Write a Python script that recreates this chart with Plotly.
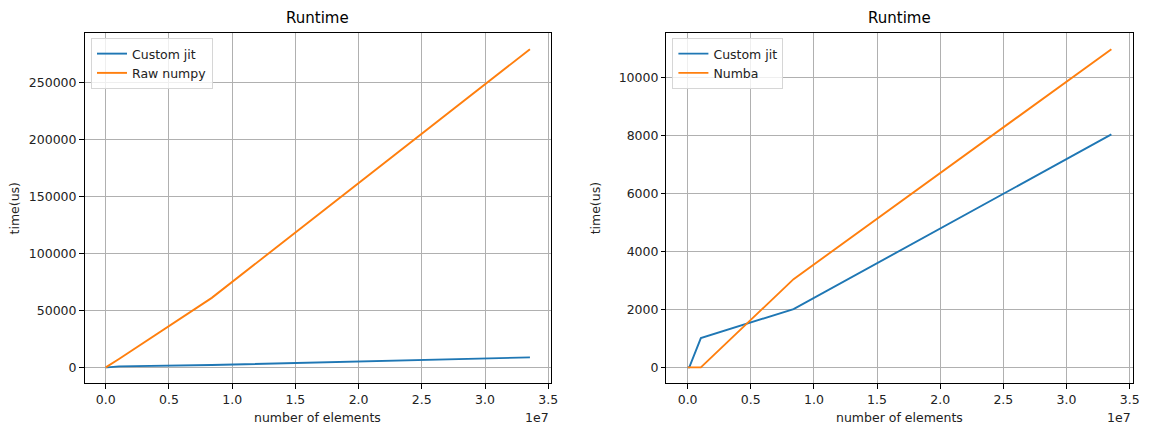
import plotly.graph_objects as go

# Data
n_elements = [1024, 131072, 1048576, 8388608, 33554432]
custom_jit_left = [0, 0, 900, 2100, 8800]
raw_numpy = [0, 900, 7300, 61000, 279200]
custom_jit_right = [0, 0, 1012, 2011, 8040]
numba = [0, 0, 0, 3044, 10980]

x_ticks = [0, 5e6, 1e7, 1.5e7, 2e7, 2.5e7, 3e7, 3.5e7]
x_ticktext = ["0.0", "0.5", "1.0", "1.5", "2.0", "2.5", "3.0", "3.5"]
y_ticks_left = [0, 50000, 100000, 150000, 200000, 250000]
y_ticks_right = [0, 2000, 4000, 6000, 8000, 10000]

BLUE = "#1f77b4"
ORANGE = "#ff7f0e"
FONT = "DejaVu Sans"
TXT = "#222222"
OFF = 8  # page body margin
W, H = 1151 - OFF, 427 - OFF

# plot-area pixel boxes in the page
L1, R1 = 85, 554.5
L2, R2 = 670.5, 1139.5
TOP, BOT = 33.3, 383.3

fig = go.Figure()

fig.add_trace(go.Scatter(x=n_elements, y=custom_jit_left, mode="lines", name="Custom jit",
                         line=dict(color=BLUE, width=1.9), xaxis="x", yaxis="y", legend="legend"))
fig.add_trace(go.Scatter(x=n_elements, y=raw_numpy, mode="lines", name="Raw numpy",
                         line=dict(color=ORANGE, width=1.9), xaxis="x", yaxis="y", legend="legend"))
fig.add_trace(go.Scatter(x=n_elements, y=custom_jit_right, mode="lines", name="Custom jit",
                         line=dict(color=BLUE, width=1.9), xaxis="x2", yaxis="y2", legend="legend2"))
fig.add_trace(go.Scatter(x=n_elements, y=numba, mode="lines", name="Numba",
                         line=dict(color=ORANGE, width=1.9), xaxis="x2", yaxis="y2", legend="legend2"))

def px_x(p):
    return (p - OFF) / W

def px_y(p):
    return 1 - (p - OFF) / H

xmin = min(n_elements); xmax = max(n_elements)
xr = [xmin - 0.05 * (xmax - xmin), xmax + 0.05 * (xmax - xmin)]

def yrange(vals):
    lo, hi = min(vals), max(vals)
    return [lo - 0.05 * (hi - lo), hi + 0.05 * (hi - lo)]

axis_common = dict(showline=True, linecolor="black", linewidth=1, mirror=True,
                   ticks="outside", ticklen=4.5, tickcolor="black", tickwidth=1,
                   showgrid=True, gridcolor="#b0b0b0", gridwidth=1, zeroline=False,
                   tickfont=dict(family=FONT, size=12.5, color=TXT))

legend_common = dict(xanchor="left", yanchor="top",
                     bgcolor="rgba(255,255,255,0.8)", bordercolor="#d6d6d6", borderwidth=1,
                     font=dict(family=FONT, size=12.5, color=TXT), tracegroupgap=0,
                     itemwidth=30)

fig.update_layout(
    width=W, height=H,
    margin=dict(l=0, r=0, t=0, b=0),
    paper_bgcolor="white", plot_bgcolor="white",
    font=dict(family=FONT, size=12.5, color=TXT),
    xaxis=dict(domain=[px_x(L1), px_x(R1)], anchor="y", range=xr,
               tickvals=x_ticks, ticktext=x_ticktext, **axis_common),
    yaxis=dict(domain=[px_y(BOT), px_y(TOP)], anchor="x", range=yrange(custom_jit_left + raw_numpy),
               tickvals=y_ticks_left, tickformat="d", **axis_common),
    xaxis2=dict(domain=[px_x(L2), px_x(R2)], anchor="y2", range=xr,
                tickvals=x_ticks, ticktext=x_ticktext, **axis_common),
    yaxis2=dict(domain=[px_y(BOT), px_y(TOP)], anchor="x2", range=yrange(custom_jit_right + numba),
                tickvals=y_ticks_right, tickformat="d", **axis_common),
    legend=dict(x=px_x(91.5), y=px_y(38), **legend_common),
    legend2=dict(x=px_x(676.5), y=px_y(38), **legend_common),
    showlegend=True,
)

annotations = []
for cx in [(L1 + R1) / 2, (L2 + R2) / 2]:
    annotations.append(dict(x=px_x(cx), y=px_y(18), xref="paper", yref="paper", text="Runtime",
                            showarrow=False, xanchor="center", yanchor="middle",
                            font=dict(family=FONT, size=15, color="black")))
    annotations.append(dict(x=px_x(cx), y=px_y(417), xref="paper", yref="paper",
                            text="number of elements", showarrow=False,
                            xanchor="center", yanchor="middle",
                            font=dict(family=FONT, size=12.5, color=TXT)))
for rx in [R1, R2]:
    annotations.append(dict(x=px_x(rx), y=px_y(417), xref="paper", yref="paper",
                            text="1e7", showarrow=False, xanchor="right", yanchor="middle",
                            font=dict(family=FONT, size=12.5, color=TXT)))
for lx in [15.5, 600]:
    annotations.append(dict(x=px_x(lx), y=px_y(208), xref="paper", yref="paper",
                            text="time(us)", showarrow=False, textangle=-90,
                            xanchor="center", yanchor="middle",
                            font=dict(family=FONT, size=12.5, color=TXT)))
fig.update_layout(annotations=annotations)

fig.write_html("out.html")
